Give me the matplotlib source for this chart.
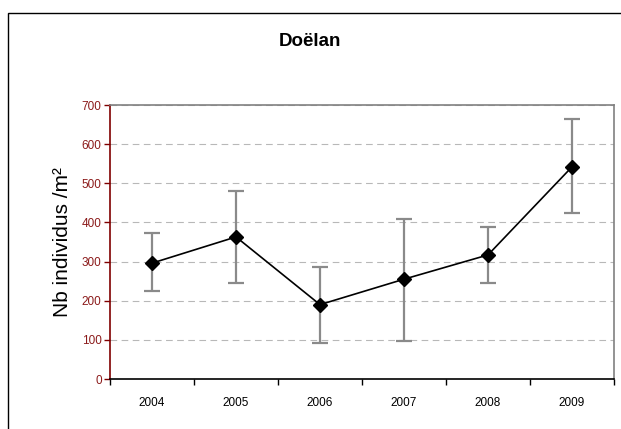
import matplotlib
matplotlib.use("Agg")
import matplotlib.pyplot as plt
from matplotlib.patches import Rectangle
import numpy as np

years = ["2004", "2005", "2006", "2007", "2008", "2009"]
means = [296, 363, 190, 255, 317, 542]
err_low = [225, 245, 93, 98, 245, 425]
err_high = [374, 481, 287, 410, 389, 665]

plt.rcParams['font.family'] = ['Liberation Sans', 'DejaVu Sans']

W, H = 621, 429
fig = plt.figure(figsize=(W / 100, H / 100), dpi=100)

# outer chart border
fig.patches.append(Rectangle((8 / W, -0.1), 1.2, (H - 13) / H + 0.1,
                             transform=fig.transFigure, fill=False,
                             edgecolor='black', linewidth=1.0, zorder=0))

ax = fig.add_axes([110 / W, (H - 379) / H, 504 / W, 274 / H])

x = np.arange(len(years))
m = np.array(means)
lo = m - np.array(err_low)
hi = np.array(err_high) - m

ax.errorbar(x, m, yerr=[lo, hi], fmt='none', ecolor='#8a8a8a',
            elinewidth=1.6, capsize=5.5, capthick=1.6, zorder=2)
ax.plot(x, m, color='black', linewidth=1.2, marker='D', markersize=7,
        markerfacecolor='black', markeredgecolor='black', zorder=3)

ax.set_xlim(-0.5, len(years) - 0.5)
ax.set_ylim(0, 700)
ax.set_yticks(range(0, 701, 100))
ax.set_xticks(x)
ax.set_xticklabels(years)
ax.set_xticks(np.arange(-0.5, len(years)), minor=True)
ax.tick_params(axis='x', which='major', length=0, pad=13, labelsize=8.5, labelcolor='black')
ax.tick_params(axis='x', which='minor', length=4, direction='out', color='black', width=1)
ax.tick_params(axis='y', length=4, direction='out', color='#800000', width=1,
               labelsize=8.5, labelcolor='#8B1A1A', pad=2)

ax.yaxis.grid(True, linestyle=(0, (6, 4)), color='#b8b8b8', linewidth=0.8)
ax.set_axisbelow(True)

ax.spines['left'].set_color('#800000')
ax.spines['bottom'].set_color('black')
ax.spines['top'].set_color('#808080')
ax.spines['right'].set_color('#808080')
for s in ax.spines.values():
    s.set_linewidth(1.2)

ax.set_ylabel("Nb individus /m²", fontsize=15, labelpad=7)
fig.text(310 / W, 1 - 42 / H, "Doëlan", ha='center', va='center',
         fontsize=13.5, fontweight='bold')

fig.savefig("out.png", dpi=100)
